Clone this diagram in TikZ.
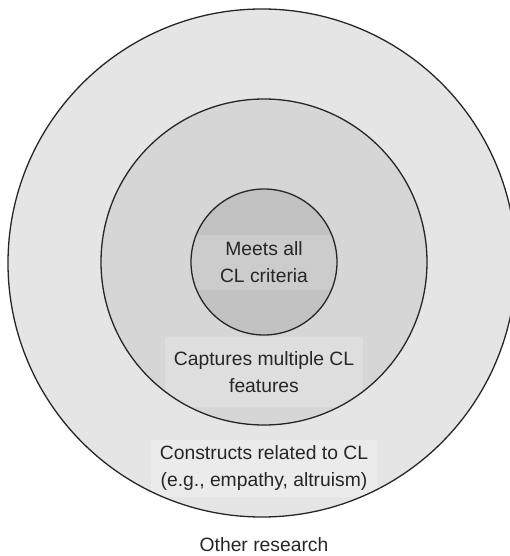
\documentclass[tikz,border=0pt]{standalone}
\usepackage{fontspec}
\setmainfont{Liberation Sans}
\definecolor{ringout}{gray}{0.90}
\definecolor{ringmid}{gray}{0.84}
\definecolor{ringin}{gray}{0.76}
\definecolor{bandout}{gray}{0.92}
\definecolor{bandmid}{gray}{0.87}
\definecolor{bandin}{gray}{0.80}
\tikzstyle{ring} = [circle, inner sep=0pt, draw=none]
\tikzstyle{band} = [align=center, inner xsep=9pt, inner ysep=0pt,
    font=\fontsize{19.3}{27.5}\selectfont, text=black!85]
\tikzstyle{rim} = [line width=1.3pt, black!85]

\begin{document}
\begin{tikzpicture}[x=1pt,y=-1pt]
            \useasboundingbox (0,0) rectangle (510,556);
            \node[ring, fill=ringout, minimum size=508pt] (outer) at (262,263) {};
            \node[ring, fill=ringmid, minimum size=326pt] (middle) at (264,262) {};
            \node[ring, fill=ringin, minimum size=146pt] (inner) at (264,262) {};
            % text bands, cut to their circles
            \begin{scope}
                \clip (inner.center) circle (73pt);
                \node[band, fill=bandin, minimum width=160pt, minimum height=55pt]
                    (crit) at (264,262) {Meets all \\ CL criteria};
            \end{scope}
            \begin{scope}
                \clip (middle.center) circle (163pt);
                \node[band, fill=bandmid, minimum height=70pt]
                    (feat) at (264,372) {Captures multiple CL \\ features};
            \end{scope}
            \begin{scope}
                \clip (outer.center) circle (254pt);
                \node[band, fill=bandout, minimum height=57pt]
                    (cons) at (264,468) {Constructs related to CL \\ (e.g., empathy, altruism)};
            \end{scope}
            \draw[rim] (outer.center) circle (254pt);
            \draw[rim] (middle.center) circle (163pt);
            \draw[rim] (inner.center) circle (73pt);
            \node[band] (other) at (264,545) {Other research};
        \end{tikzpicture}
\end{document}
